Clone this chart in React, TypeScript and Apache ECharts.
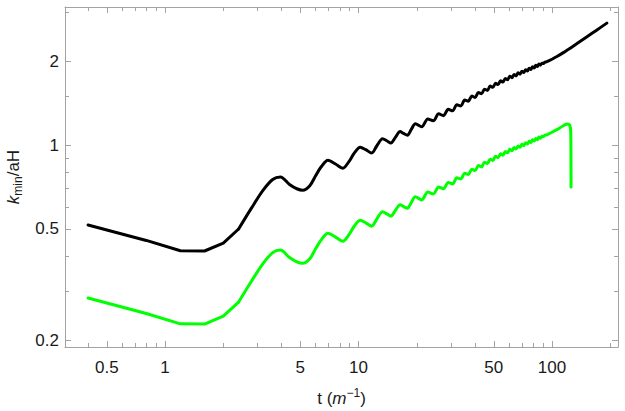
import { useEffect, useRef } from "react";
import * as echarts from "echarts";

// Sample times t (m^-1) shared by both curves, up to where the green curve turns over
const tGrid = [
  0.4, 0.8, 1.2, 1.6, 2.0, 2.4, 2.8, 3.2, 3.6,
  3.95, 4.4, 4.8, 5.15, 5.6, 6.0, 6.4,
  6.95, 7.6, 8.3, 8.9, 9.5,
  10.2, 10.9, 11.7, 12.4,
  13.3, 14.0, 14.7, 15.5,
  16.4, 17.1, 17.9, 18.7,
  19.66, 21.21, 22.8, 24.35, 25.94, 27.49, 29.08, 30.63, 32.22, 33.77, 35.37, 36.92,
  38.51, 40.06, 41.65, 43.2, 44.79, 46.34, 47.93, 49.48, 51.07, 52.62, 54.22, 55.77,
  57.36, 58.91, 60.5, 62.05, 63.64, 65.19, 66.78, 68.33, 69.92, 71.47, 73.07, 74.62,
  76.21, 77.76, 79.35, 80.9, 82.49, 84.04, 85.63, 87.18, 88.77, 90.32, 91.92, 93.47,
  100, 106, 115, 120,
];

// k_min/aH, black curve
const kBlack = [
  0.517, 0.455, 0.418, 0.417, 0.445, 0.5, 0.595, 0.686, 0.752,
  0.768, 0.722, 0.697, 0.689, 0.715, 0.776, 0.834,
  0.882, 0.855, 0.826, 0.87, 0.935,
  0.982, 0.962, 0.936, 0.99,
  1.054, 1.036, 1.017, 1.065,
  1.117, 1.1, 1.085, 1.135,
  1.192, 1.162, 1.2395, 1.2211, 1.2934, 1.2744, 1.3426, 1.3255, 1.3956, 1.381, 1.4486, 1.4338,
  1.4976, 1.4812, 1.5426, 1.5262, 1.5857, 1.5692, 1.627, 1.6103, 1.6648, 1.6462, 1.6992, 1.6807,
  1.7322, 1.7138, 1.7639, 1.743, 1.7895, 1.769, 1.8143, 1.794, 1.8383, 1.8182, 1.8617, 1.842,
  1.8848, 1.8656, 1.9078, 1.8885, 1.9299, 1.911, 1.9517, 1.9327, 1.9653, 1.9612, 1.9825, 1.9852,
  2.03, 2.075, 2.148, 2.19,
];

// k_min/aH, green curve
const kGreen = [
  0.2828, 0.2489, 0.2286, 0.2281, 0.2434, 0.2735, 0.3255, 0.3752, 0.4113,
  0.4201, 0.3949, 0.3813, 0.3769, 0.3911, 0.4245, 0.4562,
  0.4825, 0.4677, 0.4518, 0.4759, 0.5114,
  0.5372, 0.5262, 0.512, 0.5415,
  0.5765, 0.5667, 0.5563, 0.5826,
  0.611, 0.6017, 0.5935, 0.6208,
  0.652, 0.6356, 0.678, 0.6679, 0.7075, 0.6971, 0.7344, 0.725, 0.7634, 0.7554, 0.7924, 0.7843,
  0.8192, 0.8102, 0.8438, 0.8348, 0.8674, 0.8584, 0.89, 0.8808, 0.9106, 0.9005, 0.9295, 0.9193,
  0.9475, 0.9374, 0.9649, 0.9534, 0.9789, 0.9676, 0.9924, 0.9813, 1.0056, 0.9946, 1.0183, 1.0076,
  1.031, 1.0205, 1.0436, 1.033, 1.0557, 1.0453, 1.0676, 1.0572, 1.075, 1.0728, 1.0844, 1.0859,
  1.111, 1.135, 1.175, 1.19,
];

// Late-time continuation of each curve
const tBlackTail = [123, 137, 151, 170, 192];
const kBlackTail = [2.212, 2.33, 2.44, 2.58, 2.735];
const tGreenTail = [123.5, 125, 125.4];
const kGreenTail = [1.178, 1.11, 0.707];

// Frame ticks
const xMajor = [0.5, 1, 5, 10, 50, 100];
const xMinor = [0.4, 0.6, 0.7, 0.8, 0.9, 2, 3, 4, 6, 7, 8, 9, 20, 30, 40, 60, 70, 80, 90, 200];
const yMajor = [0.2, 0.5, 1, 2];
const yMinor = [0.3, 0.4, 0.6, 0.7, 0.8, 0.9, 1.5, 3];

const X_MIN = 0.304;
const X_MAX = 219.3;
const Y_MIN = 0.1888;
const Y_MAX = 3.124;

// The coarse early samples are joined with straight segments; the oscillating part is smoothed
const EARLY_END = 5; // index of t = 2.4 in tGrid

const FONT = "'Liberation Sans', Arial, sans-serif";
const FRAME = "#a3a3a3";
const LABEL = "#1a1a1a";

const pairs = (xs: number[], ys: number[]) => xs.map((x, i) => [x, ys[i]]);
const fmt = (v: number) => String(Number(Number(v).toPrecision(4)));

function frameAxis(
  position: string,
  min: number,
  max: number,
  ticks: number[],
  len: number,
  line: boolean,
  labels: number[] | null,
  extra: Record<string, unknown> = {}
) {
  return {
    type: "log",
    logBase: 10,
    position,
    min,
    max,
    axisLine: { show: line, onZero: false, lineStyle: { color: FRAME, width: 1 } },
    axisTick: {
      show: true,
      inside: true,
      length: len,
      customValues: ticks,
      lineStyle: { color: FRAME, width: 1 },
    },
    axisLabel: labels
      ? {
          show: true,
          customValues: labels,
          formatter: fmt,
          color: LABEL,
          fontFamily: FONT,
          fontSize: 17,
          margin: position === "bottom" ? 12 : 6,
        }
      : { show: false },
    splitLine: { show: false },
    minorTick: { show: false },
    ...extra,
  };
}

function curve(name: string, color: string, data: number[][], smooth: number | boolean) {
  return {
    name,
    type: "line",
    xAxisIndex: 0,
    yAxisIndex: 0,
    showSymbol: false,
    symbol: "none",
    smooth,
    data,
    lineStyle: { color, width: 3, cap: "round", join: "round" },
  };
}

export default function App() {
  const ref = useRef<HTMLDivElement>(null);

  useEffect(() => {
    if (!ref.current) return;
    const chart = echarts.init(ref.current, undefined, { renderer: "svg" });

    const blackAll = pairs(tGrid.concat(tBlackTail), kBlack.concat(kBlackTail));
    const greenAll = pairs(tGrid.concat(tGreenTail), kGreen.concat(kGreenTail));

    const xName = {
      name: "{n|t (}{i|m}{sup|−1}{n|)}",
      nameLocation: "middle",
      nameGap: 40,
      nameTextStyle: {
        rich: {
          n: { fontFamily: FONT, fontSize: 17, color: LABEL, lineHeight: 22 },
          i: { fontFamily: FONT, fontSize: 17, fontStyle: "italic", color: LABEL, lineHeight: 22 },
          sup: { fontFamily: FONT, fontSize: 12, color: LABEL, verticalAlign: "top", lineHeight: 12 },
        },
      },
    };
    const yName = {
      name: "{i|k}{sub|min}{n|/aH}",
      nameLocation: "middle",
      nameRotate: 90,
      nameGap: 40,
      nameTextStyle: {
        rich: {
          n: { fontFamily: FONT, fontSize: 17, color: LABEL, lineHeight: 22 },
          i: { fontFamily: FONT, fontSize: 17, fontStyle: "italic", color: LABEL, lineHeight: 22 },
          sub: { fontFamily: FONT, fontSize: 12, color: LABEL, verticalAlign: "bottom", lineHeight: 12 },
        },
      },
    };

    chart.setOption({
      animation: false,
      backgroundColor: "#ffffff",
      grid: {
        left: 65,
        top: 7,
        width: 553,
        height: 340,
        containLabel: false,
        outerBoundsMode: "none",
      },
      xAxis: [
        frameAxis("bottom", X_MIN, X_MAX, xMajor, 6, true, xMajor, xName),
        frameAxis("bottom", X_MIN, X_MAX, xMinor, 4, false, null),
        frameAxis("top", X_MIN, X_MAX, xMajor, 6, true, null),
        frameAxis("top", X_MIN, X_MAX, xMinor, 4, false, null),
      ],
      yAxis: [
        frameAxis("left", Y_MIN, Y_MAX, yMajor, 6, true, yMajor, yName),
        frameAxis("left", Y_MIN, Y_MAX, yMinor, 4, false, null),
        frameAxis("right", Y_MIN, Y_MAX, yMajor, 6, true, null),
        frameAxis("right", Y_MIN, Y_MAX, yMinor, 4, false, null),
      ],
      series: [
        curve("black early", "#000000", blackAll.slice(0, EARLY_END + 1), false),
        curve("black", "#000000", blackAll.slice(EARLY_END), 0.3),
        curve("green early", "#00ff00", greenAll.slice(0, EARLY_END + 1), false),
        curve("green", "#00ff00", greenAll.slice(EARLY_END), 0.3),
      ],
    });

    return () => chart.dispose();
  }, []);

  return (
    <div
      ref={ref}
      style={{ position: "fixed", left: 0, top: 0, width: 625, height: 411, background: "#fff" }}
    />
  );
}
